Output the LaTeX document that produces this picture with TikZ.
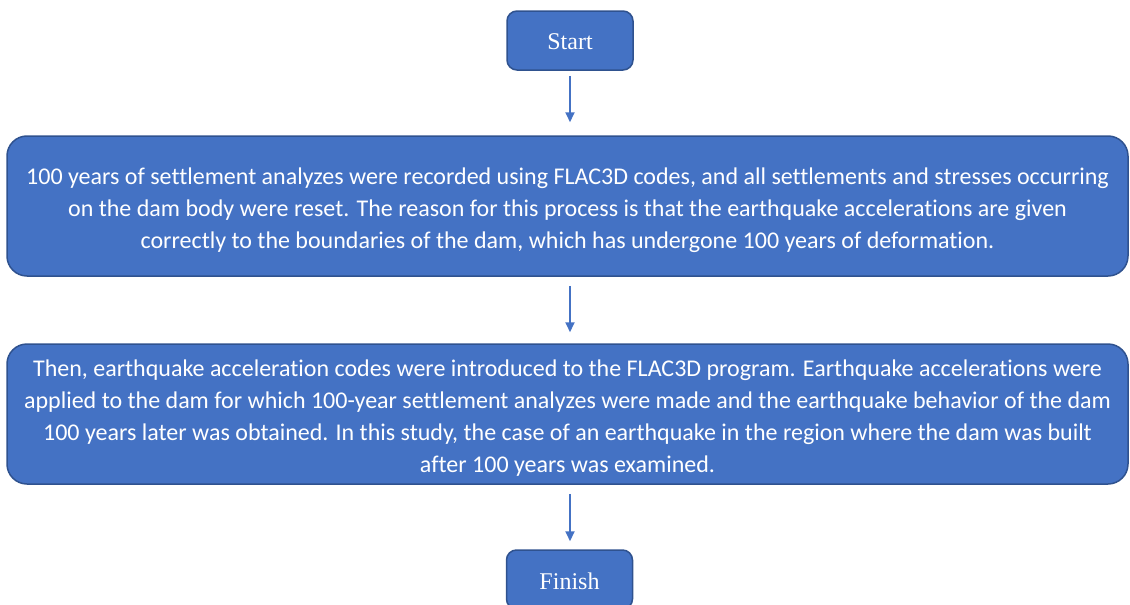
\documentclass[tikz,border=0pt]{standalone}
\usepackage{fontspec}
\setmainfont{Carlito}[Ligatures={NoCommon}]
\newfontfamily\timesf{Liberation Serif}
\usetikzlibrary{arrows.meta}
\definecolor{boxfill}{HTML}{4472C4}
\definecolor{boxline}{HTML}{2F528F}
\begin{document}
\begin{tikzpicture}[x=1pt,y=-1pt,
  flowbox/.style={draw=boxline,line width=1.5pt,fill=boxfill,text=white,align=center,inner sep=0pt},
  termbox/.style={flowbox,rounded corners=10pt,minimum width=126pt,minimum height=59pt},
  termtext/.style={text=white,inner sep=0pt,yshift=-1.5pt,font=\timesf\fontsize{24}{28}\selectfont},
  textbox/.style={flowbox,rounded corners=20pt,minimum width=1121pt,minimum height=140pt},
  boxtext/.style={text=white,align=center,inner sep=0pt,yshift=-4pt,font=\fontsize{24}{32}\selectfont},
  flowarrow/.style={draw=boxfill,line width=2pt,-{Triangle[width=9pt,length=10pt]}}]
\useasboundingbox (0,0) rectangle (1130,605);
\node[termbox,label={[termtext]center:Start}] (start) at (570,40.5) {};
\node[textbox,label={[boxtext]center:100 years of settlement analyzes were recorded using FLAC3D codes, and all settlements and stresses occurring\\on the dam body were reset. The reason for this process is that the earthquake accelerations are given\\correctly to the boundaries of the dam, which has undergone 100 years of deformation.}] (b2) at (567.5,206) {};
\node[textbox,label={[boxtext]center:Then, earthquake acceleration codes were introduced to the FLAC3D program. Earthquake accelerations were\\applied to the dam for which 100-year settlement analyzes were made and the earthquake behavior of the dam\\100 years later was obtained. In this study, the case of an earthquake in the region where the dam was built\\after 100 years was examined.}] (b3) at (567.5,414) {};
\node[termbox,label={[termtext]center:Finish}] (finish) at (569.5,579.5) {};
\draw[flowarrow,shorten <=5pt,shorten >=13pt] (start.south) -- (start.south |- b2.north);
\draw[flowarrow,shorten <=9pt,shorten >=11pt] (start.south |- b2.south) -- (start.south |- b3.north);
\draw[flowarrow,shorten <=9pt,shorten >=8pt] (start.south |- b3.south) -- (start.south |- finish.north);
\end{tikzpicture}
\end{document}
